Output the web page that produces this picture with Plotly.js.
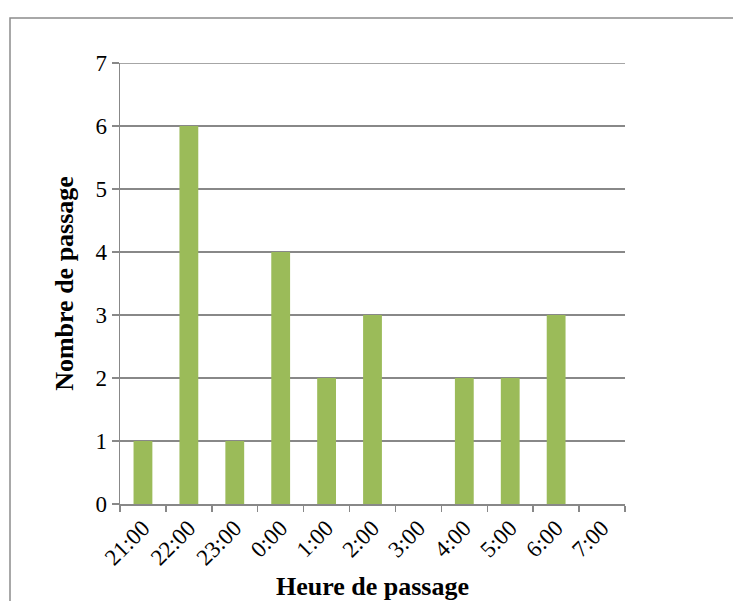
<!DOCTYPE html>
<html>
<head>
<meta charset="utf-8">
<script src="https://cdn.plot.ly/plotly-3.0.1.min.js"></script>
<style>
html,body{margin:0;padding:0;background:#fff;}
#chart{width:733px;height:601px;}
</style>
</head>
<body>
<div id="chart"></div>
<script>
const categories = ["21:00","22:00","23:00","0:00","1:00","2:00","3:00","4:00","5:00","6:00","7:00"];
const passages = [1, 6, 1, 4, 2, 3, 0, 2, 2, 3, 0];
const yTicks = [0, 1, 2, 3, 4, 5, 6, 7];

const font = "'Liberation Serif', 'Times New Roman', serif";
const yMax = yTicks[yTicks.length - 1];

const trace = {
  type: "bar",
  x: categories,
  y: passages,
  marker: {color: "#9BBB59", line: {width: 0}},
  hoverinfo: "x+y"
};

const layout = {
  width: 733,
  height: 601,
  margin: {l: 120, r: 108, t: 63, b: 97},
  paper_bgcolor: "#ffffff",
  plot_bgcolor: "#ffffff",
  showlegend: false,
  bargap: 0.59,
  font: {family: font, size: 23, color: "#000"},
  xaxis: {
    type: "category",
    range: [-0.5, 10.5],
    tickson: "boundaries",
    ticks: "outside",
    ticklen: 6,
    tickcolor: "#888888",
    tickwidth: 1.5,
    showline: true,
    linecolor: "#888888",
    linewidth: 1.5,
    showgrid: false,
    tickangle: -45,
    tickfont: {family: font, size: 23, color: "#000"},
    title: {text: "<b>Heure de passage</b>", font: {family: font, size: 26, color: "#000"}, standoff: 11},
    fixedrange: true
  },
  yaxis: {
    range: [0, yMax],
    tickvals: yTicks,
    ticktext: yTicks.map(String),
    ticks: "outside",
    ticklen: 7,
    tickcolor: "#888888",
    tickwidth: 1.5,
    showline: true,
    linecolor: "#888888",
    linewidth: 1.5,
    showgrid: true,
    gridcolor: "#888888",
    gridwidth: 1.5,
    zeroline: false,
    tickfont: {family: font, size: 23, color: "#000"},
    title: {text: "<b>Nombre de passage</b>", font: {family: font, size: 26, color: "#000"}, standoff: 14},
    fixedrange: true
  },
  shapes: [
    {
      type: "line", xref: "paper", yref: "y",
      x0: 0, x1: 1, y0: yMax, y1: yMax,
      line: {color: "#888888", width: 1.5}, layer: "below"
    },
    {
      type: "rect", xref: "paper", yref: "paper",
      x0: -110/505, x1: 740/505 - 120/505, y0: -110/441, y1: 1 + 45/441,
      line: {color: "#8c8c8c", width: 1.5}, fillcolor: "rgba(0,0,0,0)", layer: "below"
    }
  ]
};

Plotly.newPlot("chart", [trace], layout, {displayModeBar: false, staticPlot: true});
</script>
</body>
</html>
